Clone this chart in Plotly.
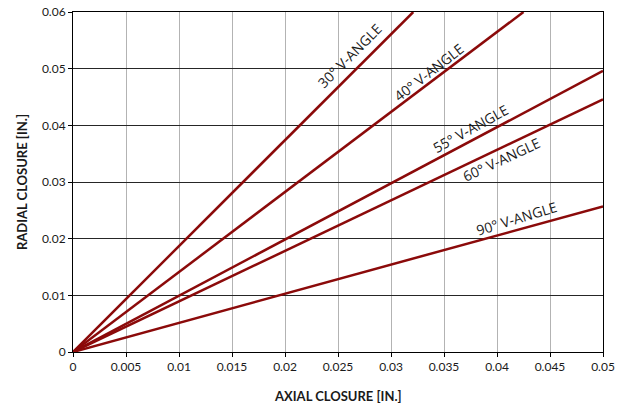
import plotly.graph_objects as go

# Data (axial closure vs radial closure, inches)
angles = ["30° V-ANGLE", "40° V-ANGLE", "55° V-ANGLE", "60° V-ANGLE", "90° V-ANGLE"]
axial_start = [0, 0, 0, 0, 0]
radial_start = [0, 0, 0, 0, 0]
axial_end = [0.0321, 0.0425, 0.05, 0.05, 0.05]
radial_end = [0.06, 0.06, 0.0496, 0.0446, 0.0257]

x_ticks = [0, 0.005, 0.01, 0.015, 0.02, 0.025, 0.03, 0.035, 0.04, 0.045, 0.05]
x_tick_labels = ["0", "0.005", "0.01", "0.015", "0.02", "0.025", "0.03", "0.035", "0.04", "0.045", "0.05"]
y_ticks = [0, 0.01, 0.02, 0.03, 0.04, 0.05, 0.06]
y_tick_labels = ["0", "0.01", "0.02", "0.03", "0.04", "0.05", "0.06"]

LINE_COLOR = "#8b0a0a"
FONT = "Lato, 'Open Sans', sans-serif"

fig = go.Figure()
for name, x0, y0, x1, y1 in zip(angles, axial_start, radial_start, axial_end, radial_end):
    fig.add_trace(go.Scatter(x=[x0, x1], y=[y0, y1], mode="lines", name=name,
                             line=dict(color=LINE_COLOR, width=2.5), showlegend=False,
                             cliponaxis=True, hoverinfo="skip"))

# label placement (pixel-derived positions and angles along each line)
label_pos = [(0.0261, 0.0523, -45), (0.0335, 0.0494, -38), (0.0375, 0.0394, -29),
             (0.0404, 0.0339, -25), (0.0418, 0.0235, -17)]
for name, (lx, ly, ang) in zip(angles, label_pos):
    fig.add_annotation(x=lx, y=ly, text=name, showarrow=False, textangle=ang,
                       font=dict(family="'Open Sans', sans-serif", size=14, color="#1a1a1a"))

# axis titles
fig.add_annotation(xref="paper", yref="paper", x=0.5, y=-0.128, yanchor="middle",
                   text="<b>AXIAL CLOSURE [IN.]</b>", showarrow=False,
                   font=dict(family=FONT, size=13, color="#1a1a1a"))
fig.add_annotation(xref="paper", yref="paper", x=-0.096, y=0.5, xanchor="center",
                   text="<b>RADIAL CLOSURE [IN.]</b>", showarrow=False, textangle=-90,
                   font=dict(family=FONT, size=13, color="#1a1a1a"))

fig.update_layout(
    width=628, height=404,
    margin=dict(l=73, r=25, t=12, b=52, autoexpand=False),
    paper_bgcolor="white", plot_bgcolor="white",
    font=dict(family=FONT, size=12, color="#1a1a1a"),
)
fig.update_xaxes(
    range=[0, 0.05], tickvals=x_ticks, ticktext=x_tick_labels,
    showgrid=True, gridcolor="#b3b3b3", gridwidth=1,
    showline=True, linecolor="#000000", linewidth=1, mirror=True,
    ticks="outside", ticklen=4, tickcolor="#000000",
    zeroline=False, automargin=False,
)
fig.update_yaxes(
    range=[0, 0.06], tickvals=y_ticks, ticktext=y_tick_labels,
    showgrid=True, gridcolor="#262626", gridwidth=1,
    showline=True, linecolor="#000000", linewidth=1, mirror=True,
    ticks="outside", ticklen=4, tickcolor="#000000",
    zeroline=False, automargin=False,
)

fig.write_html("out.html", config={"displayModeBar": False},
               post_script="document.body.style.margin='0px';")
